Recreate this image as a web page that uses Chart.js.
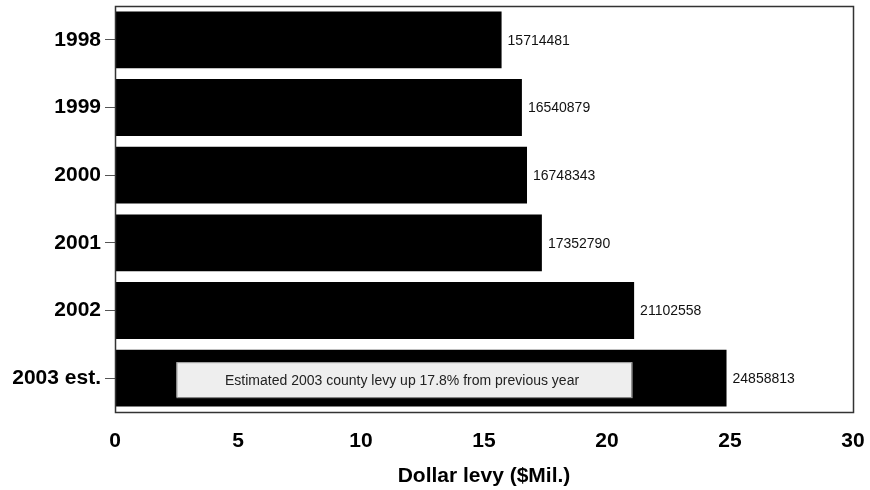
<!DOCTYPE html>
<html>
<head>
<meta charset="utf-8">
<script src="https://cdn.jsdelivr.net/npm/chart.js@4"></script>
<style>body{margin:0;background:#fff}</style>
</head>
<body>
<canvas id="grafico" width="870" height="490"></canvas>
<script>
const anos = ['1998', '1999', '2000', '2001', '2002', '2003 est.'];
const levy = [15714481, 16540879, 16748343, 17352790, 21102558, 24858813];
const levyMil = levy.map(v => v / 1e6);
const nota = 'Estimated 2003 county levy up 17.8% from previous year';
const notaDe = 2.5, notaAte = 21;   // em $Mil.

const fonte = 'Arial, "Liberation Sans", sans-serif';

// caixa em volta da area do grafico
const moldura = {
  id: 'moldura',
  afterDatasetsDraw(chart) {
    const {ctx, chartArea: a} = chart;
    ctx.save();
    ctx.strokeStyle = '#333';
    ctx.lineWidth = 1.5;
    ctx.strokeRect(a.left + 0.5, a.top + 0.5, a.right - a.left, a.bottom - a.top);
    ctx.restore();
  }
};

// valores ao lado das barras + nota na ultima barra
const rotulos = {
  id: 'rotulos',
  afterDatasetsDraw(chart) {
    const {ctx, scales} = chart;
    const barras = chart.getDatasetMeta(0).data;
    ctx.save();
    ctx.font = '14px ' + fonte;
    ctx.fillStyle = '#111';
    ctx.textBaseline = 'middle';
    ctx.textAlign = 'left';
    barras.forEach((b, i) => {
      ctx.fillText(levy[i], b.x + 6, b.y + 1);
    });
    // nota
    const ult = barras[barras.length - 1];
    const x1 = scales.x.getPixelForValue(notaDe);
    const x2 = scales.x.getPixelForValue(notaAte);
    const y1 = ult.y - 16, h = 35;
    ctx.fillStyle = '#eeeeee';
    ctx.fillRect(x1, y1, x2 - x1, h);
    ctx.strokeStyle = '#999';
    ctx.lineWidth = 1;
    ctx.strokeRect(x1 + 0.5, y1 + 0.5, x2 - x1, h);
    ctx.fillStyle = '#222';
    ctx.textAlign = 'center';
    ctx.fillText(nota, (x1 + x2) / 2 - 2, y1 + h / 2 + 1);
    ctx.restore();
  }
};

new Chart(document.getElementById('grafico'), {
  type: 'bar',
  data: {
    labels: anos,
    datasets: [{
      data: levyMil,
      backgroundColor: '#000',
      barPercentage: 0.84,
      categoryPercentage: 1
    }]
  },
  options: {
    indexAxis: 'y',
    responsive: false,
    animation: false,
    layout: { padding: { top: 6, right: 17, left: 0, bottom: 0 } },
    plugins: { legend: { display: false }, tooltip: { enabled: false } },
    scales: {
      x: {
        min: 0,
        max: 30,
        ticks: { stepSize: 5, color: '#000', padding: 17, font: { family: fonte, size: 21, weight: 'bold' } },
        grid: { display: false, drawTicks: false },
        border: { display: false },
        title: {
          display: true,
          text: 'Dollar levy ($Mil.)',
          color: '#000',
          font: { family: fonte, size: 21, weight: 'bold' },
          padding: { top: 0, bottom: 1 }
        },
        afterFit(s) { s.height = 78; s.paddingLeft = 0; s.paddingRight = 0; }
      },
      y: {
        ticks: { color: '#000', padding: 4, font: { family: fonte, size: 21, weight: 'bold' } },
        grid: { drawOnChartArea: false, offset: false, tickLength: 10, color: '#555' },
        border: { display: false },
        afterFit(s) { s.width = 115; s.paddingTop = 0; s.paddingBottom = 0; }
      }
    }
  },
  plugins: [moldura, rotulos]
});
</script>
</body>
</html>
